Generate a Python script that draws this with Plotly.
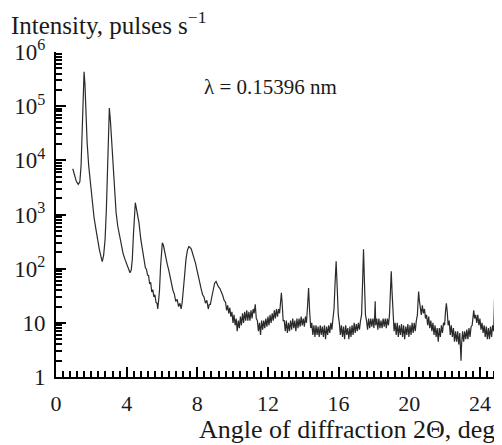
import plotly.graph_objects as go

# --- data (angle 2Theta in deg, intensity in pulses/s) ---
angle_low = [0.95, 1.05, 1.15, 1.26, 1.35, 1.42, 1.48, 1.54, 1.59, 1.64, 1.70, 1.76, 1.85, 1.95,
             2.05, 2.15, 2.25, 2.35, 2.45, 2.55, 2.62, 2.70, 2.78, 2.85, 2.92, 2.97, 3.02, 3.08,
             3.15, 3.22, 3.30, 3.40, 3.50, 3.60, 3.70, 3.80, 3.90, 4.00, 4.10, 4.19, 4.26, 4.32,
             4.38, 4.44, 4.49, 4.55, 4.62, 4.70, 4.80, 4.90]
intensity_low = [7000, 5200, 4100, 3600, 4000, 8000, 40000, 200000, 430000, 250000, 60000, 22000,
                 8000, 3500, 1800, 900, 560, 330, 230, 165, 135, 180, 350, 1200, 10000, 50000,
                 92000, 55000, 22000, 8000, 2600, 1100, 600, 400, 270, 190, 150, 120, 100, 84, 95,
                 150, 400, 1200, 1650, 1300, 1000, 700, 350, 210]

angle_mid = [5.00, 5.06, 5.12, 5.18, 5.24, 5.30, 5.36, 5.42, 5.48, 5.54, 5.60, 5.66, 5.72, 5.76,
             5.80, 5.86, 5.92, 5.97, 6.02, 6.08, 6.15, 6.22, 6.30, 6.38, 6.46, 6.55, 6.62, 6.70,
             6.78, 6.86, 6.94, 7.02, 7.08, 7.14, 7.20, 7.28, 7.36, 7.44, 7.52, 7.58, 7.66, 7.74,
             7.82, 7.90, 7.98, 8.06, 8.14, 8.22, 8.30, 8.38, 8.46, 8.54, 8.62, 8.68, 8.74, 8.82,
             8.90, 8.98, 9.06, 9.12, 9.20, 9.28, 9.36, 9.44, 9.52]
intensity_mid = [130, 104, 98, 76, 75, 52, 56, 37, 41, 30, 33, 24, 23, 18, 24, 40, 110, 240, 300,
                 270, 200, 160, 120, 95, 70, 52, 40, 34, 25, 27, 20, 23, 18, 23, 35, 75, 150, 220,
                 255, 250, 230, 190, 160, 125, 95, 68, 55, 42, 33, 30, 23, 26, 18, 22, 22, 30, 42,
                 54, 58, 52, 46, 43, 38, 32, 26]

angle_high = [9.60, 9.66, 9.72, 9.78, 9.84, 9.90, 9.96, 10.02, 10.08, 10.14,
              10.20, 10.26, 10.32, 10.38, 10.44, 10.50, 10.56, 10.62, 10.68, 10.74,
              10.80, 10.86, 10.92, 10.98, 11.04, 11.10, 11.16, 11.22, 11.28, 11.34,
              11.40, 11.46, 11.52, 11.58, 11.64, 11.70, 11.76, 11.82, 11.88, 11.94,
              12.00, 12.06, 12.12, 12.18, 12.24, 12.30, 12.36, 12.42, 12.48, 12.54,
              12.60, 12.66, 12.72, 12.76, 12.80, 12.86, 12.92, 12.98, 13.04, 13.10,
              13.16, 13.22, 13.28, 13.34, 13.40, 13.46, 13.52, 13.58, 13.64, 13.70,
              13.76, 13.82, 13.88, 13.94, 14.00, 14.06, 14.12, 14.18, 14.24, 14.30,
              14.36, 14.42, 14.48, 14.54, 14.60, 14.66, 14.72, 14.78, 14.84, 14.90,
              14.96, 15.02, 15.08, 15.14, 15.20, 15.26, 15.32, 15.38, 15.44, 15.50,
              15.56, 15.62, 15.68, 15.74, 15.80, 15.86, 15.92, 15.98, 16.04, 16.10,
              16.16, 16.22, 16.28, 16.34, 16.40, 16.46, 16.52, 16.58, 16.64, 16.70,
              16.76, 16.82, 16.88, 16.94, 17.00, 17.06, 17.12, 17.18, 17.24, 17.30,
              17.36, 17.41, 17.46, 17.52, 17.58, 17.64, 17.70, 17.76, 17.82, 17.88,
              17.94, 18.00, 18.04, 18.07, 18.10, 18.16, 18.22, 18.28, 18.34, 18.40,
              18.46, 18.52, 18.58, 18.64, 18.70, 18.76, 18.82, 18.88, 18.93, 18.98,
              19.03, 19.08, 19.14, 19.20, 19.26, 19.32, 19.38, 19.44, 19.50, 19.56,
              19.62, 19.68, 19.74, 19.80, 19.86, 19.92, 19.98, 20.04, 20.10, 20.16,
              20.22, 20.28, 20.34, 20.40, 20.46, 20.50, 20.53, 20.57, 20.62, 20.68,
              20.74, 20.80, 20.86, 20.92, 20.98, 21.04, 21.10, 21.16, 21.22, 21.28,
              21.34, 21.40, 21.46, 21.52, 21.58, 21.64, 21.70, 21.76, 21.82, 21.88,
              21.94, 22.00, 22.05, 22.10, 22.15, 22.20, 22.26, 22.32, 22.38, 22.44,
              22.50, 22.56, 22.62, 22.68, 22.74, 22.80, 22.86, 22.90, 22.93, 22.96,
              23.02, 23.08, 23.14, 23.20, 23.26, 23.32, 23.38, 23.44, 23.50, 23.56,
              23.61, 23.65, 23.70, 23.76, 23.82, 23.88, 23.94, 24.00, 24.06, 24.12,
              24.18, 24.24, 24.30, 24.36, 24.42, 24.48, 24.54, 24.60, 24.66, 24.72,
              24.78, 24.83, 24.88, 24.94, 25.00, 25.06, 25.12, 25.18, 25.24]
intensity_high = [24, 17, 21, 15, 19, 13, 16, 10, 14, 9,
                  12, 7, 11, 8, 13, 9, 15, 10, 16, 11,
                  17, 11, 16, 11, 17, 12, 18, 15, 22, 12,
                  11, 7, 10, 6, 11, 7.5, 11, 8, 12, 8.5,
                  13, 9, 14, 10, 15, 11, 17, 12, 18, 13,
                  18, 15, 26, 36, 24, 11, 11, 7, 11, 6.5,
                  10, 7, 11, 7.5, 12, 8, 11, 7, 12, 8,
                  12, 8.5, 13, 9, 12, 8.5, 13, 10, 20, 44,
                  16, 8, 10, 6, 9, 5.5, 9, 6, 8.5, 5.5,
                  9, 6, 8.5, 5.5, 9, 5, 8.5, 6, 9, 6.5,
                  10, 7.5, 12, 18, 55, 137, 45, 14, 10, 6,
                  9, 5.5, 8.5, 5, 9, 6, 8, 5, 8.5, 5.5,
                  9, 6, 10, 6.5, 9.5, 7, 10, 7.5, 11, 14,
                  60, 228, 60, 14, 11, 7.5, 12, 8, 12, 8.5,
                  12, 8, 13, 25, 9, 12, 7.5, 12, 8, 11,
                  8, 12, 8.5, 12, 8, 12, 9, 14, 35, 90,
                  35, 12, 7, 10, 6, 10, 5.5, 9, 6, 9.5,
                  5.5, 9, 5, 8.5, 6, 9.5, 5.5, 9, 6, 10,
                  6.5, 10, 7, 11, 14, 26, 38, 26, 19, 14,
                  21, 15, 18, 12, 14, 9, 13, 8, 11, 7,
                  10, 6, 9, 5.5, 8, 4.5, 8, 5.5, 9, 6.5,
                  10, 9, 16, 23, 16, 9, 11, 6, 9, 5.5,
                  8, 4.5, 7, 4.5, 7, 4, 6.5, 3.5, 2, 4,
                  7, 4.5, 7, 5, 7.5, 5, 8, 5.5, 8.5, 9,
                  14, 17, 12, 14, 10, 14, 9, 12, 7.5, 10,
                  6.5, 9, 5.5, 8.5, 5, 8, 5, 8.5, 5.5, 9,
                  7, 30, 7, 5, 8.5, 5.5, 9, 6, 8]

y_tick_values = [1, 10, 100, 1000, 10000, 100000, 1000000]
y_tick_labels = ["1", "10", "10<sup>2</sup>", "10<sup>3</sup>", "10<sup>4</sup>",
                 "10<sup>5</sup>", "10<sup>6</sup>"]
x_tick_values = [0, 4, 8, 12, 16, 20, 24]

angle = angle_low + angle_mid + angle_high
intensity = intensity_low + intensity_mid + intensity_high

FONT = "Liberation Serif"
INK = "#1a1a1a"

fig = go.Figure()
fig.add_trace(go.Scatter(x=angle, y=intensity, mode="lines",
                         line=dict(color="#2a2a2a", width=1.2), hoverinfo="skip"))

# the page body has an 8 px margin, so the figure is 8 px smaller and the margins shifted
fig.update_layout(
    width=494, height=437,
    margin=dict(l=48, r=0, t=44, b=68),
    paper_bgcolor="white", plot_bgcolor="white",
    showlegend=False,
    font=dict(family=FONT, size=22, color=INK),
)

fig.update_xaxes(
    range=[0, 25.25], showgrid=False, zeroline=False,
    showline=True, linecolor="black", linewidth=2,
    ticks="inside", ticklen=10, tickwidth=2, tickcolor="black",
    tickvals=x_tick_values, ticktext=[str(v) for v in x_tick_values],
    ticklabelstandoff=6,
    minor=dict(ticks="inside", ticklen=6, tickwidth=2, tickcolor="black", dtick=0.4, showgrid=False),
    tickfont=dict(family=FONT, size=22, color=INK),
)
fig.update_yaxes(
    type="log", range=[0, 6.0], showgrid=False, zeroline=False,
    showline=True, linecolor="black", linewidth=2,
    ticks="inside", ticklen=10, tickwidth=2, tickcolor="black",
    tickvals=y_tick_values, ticktext=y_tick_labels,
    ticklabelstandoff=4,
    minor=dict(ticks="inside", ticklen=6, tickwidth=2, tickcolor="black", dtick="D1", showgrid=False),
    tickfont=dict(family=FONT, size=23, color=INK),
)

fig.add_annotation(xref="paper", yref="paper", x=-0.105, y=1.09, xanchor="left", yanchor="middle",
                   text="Intensity, pulses s<sup>−1</sup>", showarrow=False,
                   font=dict(family=FONT, size=25, color=INK))
fig.add_annotation(xref="paper", yref="paper", x=0.989, y=-0.16, xanchor="right", yanchor="middle",
                   text="Angle of diffraction 2Θ, deg", showarrow=False,
                   font=dict(family=FONT, size=26, color=INK))
fig.add_annotation(xref="x", yref="y", x=8.27, y=5.35, xanchor="left", yanchor="middle",
                   text="λ = 0.15396 nm", showarrow=False,
                   font=dict(family=FONT, size=21, color=INK))

fig.write_html("out.html")
